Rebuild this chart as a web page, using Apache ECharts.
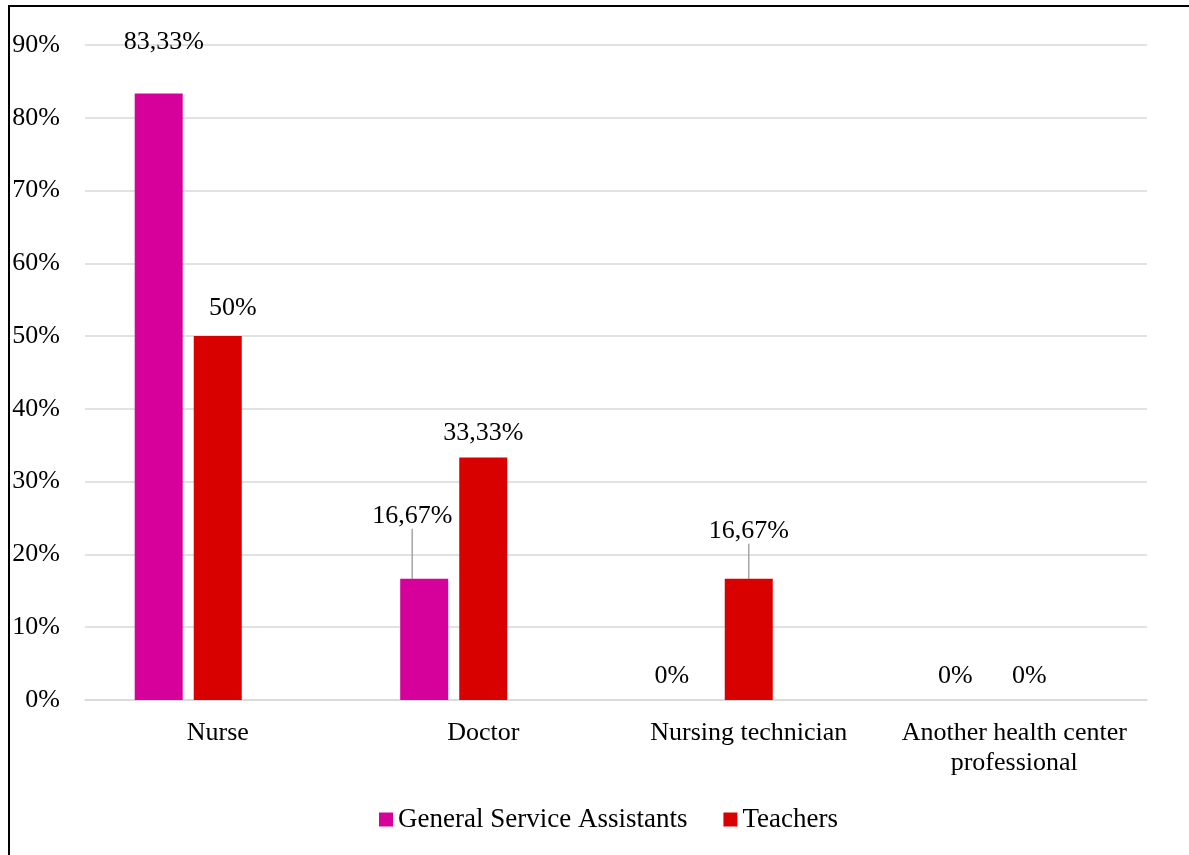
<!DOCTYPE html>
<html>
<head>
<meta charset="utf-8">
<script src="https://cdn.jsdelivr.net/npm/echarts@6/dist/echarts.min.js"></script>
<style>
  html, body { margin: 0; padding: 0; background: #fff; }
  #main { width: 1189px; height: 855px; }
</style>
</head>
<body>
<div id="main"></div>
<script>
const categories = ['Nurse', 'Doctor', 'Nursing technician', 'Another health center\nprofessional']
const assistants = [83.33, 16.67, 0, 0]
const teachers = [50, 33.33, 16.67, 0]
const seriesNames = ['General Service Assistants', 'Teachers']

// label nudges [dx, dy] per series / category, like the moved labels in the picture
const labelMoves = [
  [[5, -33], [-12, -45], [-18, -6], [0, -6]],
  [[15, -10], [0, -6], [0, -30], [15, -6]],
]
const font = 'Liberation Serif'
const fs = 26

function pct(v) {
  let s = v.toFixed(2).replace('.', ',')
  s = s.replace(/,00$/, '')
  return s + '%'
}

var myChart = echarts.init(document.getElementById('main'))

let option = {
  animation: false,
  textStyle: { fontFamily: font },
  grid: { left: 85, right: 42, top: 45, bottom: 155 },
  legend: {
    data: seriesNames,
    bottom: 17,
    left: 374,
    itemWidth: 14,
    itemHeight: 14,
    itemGap: 36,
    icon: 'rect',
    textStyle: { fontFamily: font, fontSize: 27, color: '#000' },
  },
  xAxis: {
    type: 'category',
    data: categories,
    axisLine: { lineStyle: { color: '#d9d9d9', width: 1.5 } },
    axisTick: { show: false },
    axisLabel: { interval: 0, color: '#000', fontSize: fs, margin: 18, lineHeight: 30, fontFamily: font },
  },
  yAxis: {
    type: 'value',
    min: 0,
    max: 90,
    interval: 10,
    axisLine: { show: false },
    axisTick: { show: false },
    axisLabel: { color: '#000', fontSize: fs, margin: 25, fontFamily: font, formatter: '{value}%' },
    splitLine: { lineStyle: { color: '#d9d9d9', width: 1.5 } },
  },
  series: [
    {
      name: seriesNames[0],
      type: 'bar',
      data: assistants,
      barWidth: 48,
      barGap: '23%',
      itemStyle: { color: '#d6009a' },
    },
    {
      name: seriesNames[1],
      type: 'bar',
      data: teachers,
      barWidth: 48,
      barGap: '23%',
      itemStyle: { color: '#d90000' },
    },
    {
      // empty third slot, keeps Teachers on the category centre
      name: 'spacer',
      type: 'bar',
      data: [],
      barWidth: 48,
      barGap: '23%',
    },
  ],
  graphic: [
    { type: 'line', shape: { x1: 9, y1: 6, x2: 1189, y2: 6 }, style: { stroke: '#000', lineWidth: 2 } },
    { type: 'line', shape: { x1: 9, y1: 5, x2: 9, y2: 855 }, style: { stroke: '#000', lineWidth: 2 } },
  ],
}

for (let s = 0; s < 2; s++) {
  const ser = option.series[s]
  ser.label = {
    show: true,
    position: 'top',
    distance: 5,
    color: '#000',
    fontSize: fs,
    fontFamily: font,
    formatter: (p) => pct(p.value),
  }
  ser.labelLine = { show: false, lineStyle: { color: '#a6a6a6', width: 1.5 } }
  ser.labelLayout = (p) => {
    const m = labelMoves[s][p.dataIndex]
    return { dx: m[0], dy: m[1] }
  }
}
// leader lines on the two labels that were dragged away
option.series[0].data = assistants.map((v, i) => (i === 1 ? { value: v, labelLine: { show: true } } : v))
option.series[1].data = teachers.map((v, i) => (i === 2 ? { value: v, labelLine: { show: true } } : v))

myChart.setOption(option)
</script>
</body>
</html>
